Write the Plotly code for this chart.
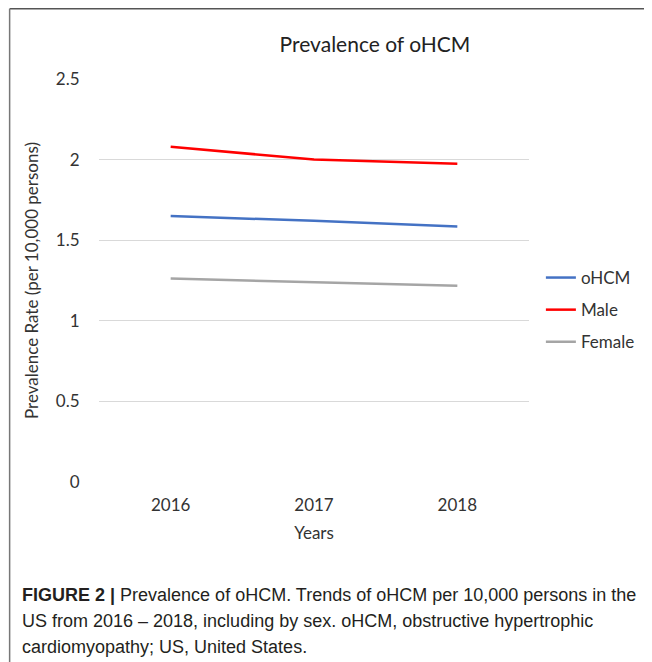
import plotly.graph_objects as go

years = ["2016", "2017", "2018"]
ohcm = [1.65, 1.62, 1.585]
male = [2.08, 2.00, 1.975]
female = [1.262, 1.24, 1.218]

series_names = ["oHCM", "Male", "Female"]
series_colors = ["#4472C4", "#FF0000", "#A5A5A5"]
y_ticks = [0, 0.5, 1, 1.5, 2, 2.5]
y_tick_labels = ["0", "0.5", "1", "1.5", "2", "2.5"]

caption_lines = [
    "<b>FIGURE 2 |</b> Prevalence of oHCM. Trends of oHCM per 10,000 persons in the",
    "US from 2016 \u2013 2018, including by sex. oHCM, obstructive hypertrophic",
    "cardiomyopathy; US, United States.",
]

# page body has an 8px margin; work in reference pixel coords and shift
OFF = 8
W, H = 652 - OFF, 662 - OFF
L, R, T, B = 99 - OFF, 533 - OFF, 79 - OFF, 482 - OFF
pw, ph = R - L, B - T

def px_x(x):  # reference pixel -> paper
    return (x - OFF - L) / pw

def px_y(y):
    return (B - (y - OFF)) / ph

chart_font = "Lato, 'Open Sans', sans-serif"
txt_col = "#333333"

fig = go.Figure()
for name, vals, col in zip(series_names, [ohcm, male, female], series_colors):
    fig.add_trace(go.Scatter(
        x=years, y=vals, mode="lines", name=name, legendgroup=name,
        line=dict(color=col, width=2.5),
    ))

fig.update_layout(
    width=W, height=H,
    margin=dict(l=L, r=W - R, t=T, b=H - B),
    paper_bgcolor="white", plot_bgcolor="white",
    font=dict(family=chart_font, color=txt_col, size=17),
    showlegend=True,
    legend=dict(
        x=px_x(545), y=px_y(260), xanchor="left", yanchor="top",
        font=dict(size=17, color=txt_col),
        tracegroupgap=7, traceorder="grouped",
        bgcolor="rgba(0,0,0,0)",
    ),
    title=dict(
        text="Prevalence of oHCM", x=(375 - OFF) / W, xref="container", xanchor="center",
        y=1 - (45 - OFF) / H, yref="container", yanchor="middle",
        font=dict(size=21, color="#222222", family=chart_font),
    ),
)

fig.update_xaxes(
    type="category", range=[-0.5, 2.5], showgrid=False, zeroline=False,
    showline=False, ticks="outside", ticklen=8, tickcolor="rgba(0,0,0,0)",
    tickfont=dict(size=17, color=txt_col),
    title=dict(text="Years", font=dict(size=17, color=txt_col), standoff=12),
)
fig.update_yaxes(
    range=[0, 2.5], tickvals=y_ticks, ticktext=y_tick_labels,
    showgrid=True, gridcolor="#d9d9d9", gridwidth=1, zeroline=False,
    showline=False, ticks="outside", ticklen=15, tickcolor="rgba(0,0,0,0)",
    tickfont=dict(size=17, color=txt_col),
    title=dict(text="Prevalence Rate (per 10,000 persons)",
               font=dict(size=17, color=txt_col), standoff=12),
)

# outer border (top and left)
fig.add_shape(type="line", xref="paper", yref="paper",
              x0=px_x(8.8), x1=px_x(652), y0=px_y(8.8), y1=px_y(8.8),
              line=dict(color="#555555", width=1.5))
fig.add_shape(type="line", xref="paper", yref="paper",
              x0=px_x(8.8), x1=px_x(8.8), y0=px_y(8.8), y1=px_y(662),
              line=dict(color="#777777", width=1.5))

for txt, yy in zip(caption_lines, [595, 621, 647]):
    fig.add_annotation(
        text=txt, xref="paper", yref="paper", x=px_x(19), y=px_y(yy),
        xanchor="left", yanchor="middle", showarrow=False, align="left",
        font=dict(family="'Liberation Sans', Arial, sans-serif", size=18, color="#231f20"),
    )

fig.write_html("out.html")
